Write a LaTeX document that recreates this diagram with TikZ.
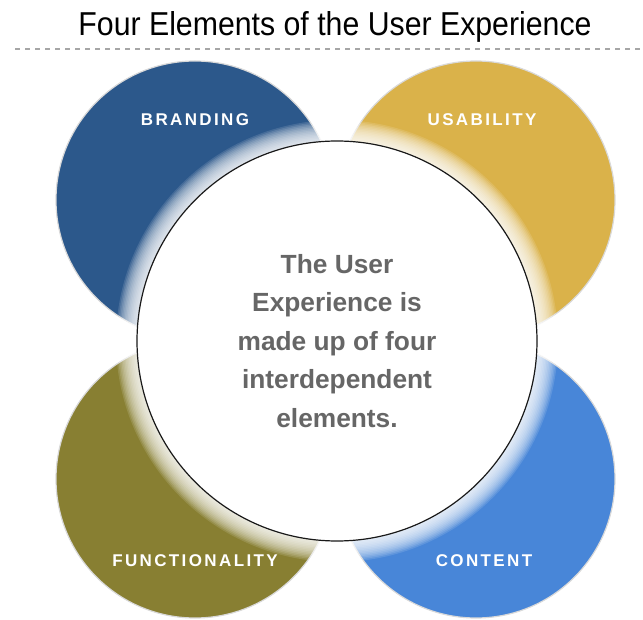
\documentclass[tikz,border=0pt]{standalone}
\usepackage{fontspec}
\setmainfont{Liberation Sans}
\usepackage{graphicx}
\definecolor{brandblue}{RGB}{44,88,139}
\definecolor{usayellow}{RGB}{218,178,74}
\definecolor{funcolive}{RGB}{136,127,50}
\definecolor{contblue}{RGB}{72,134,216}
\definecolor{hubtext}{RGB}{102,102,102}
\begin{document}
\begin{tikzpicture}[x=1pt,y=-1pt,
  petal/.style={circle, minimum size=278pt, inner sep=0pt, draw=gray!30, line width=1.2pt},
  petallabel/.style={text=white, inner sep=0pt, font=\fontsize{17}{20}\selectfont\bfseries\addfontfeatures{LetterSpace=14}},
  hub/.style={circle, minimum size=400pt, inner sep=0pt, fill=white, draw=black!90, line width=1.2pt,
    text=hubtext, align=center, font=\fontsize{26.3}{38.5}\selectfont\bfseries},
  glow/.style={white, opacity=0.125},
  rule/.style={gray!70, line width=1.5pt, dash pattern=on 5pt off 5pt}]
\useasboundingbox (0,0) rectangle (643,620);
\node[anchor=base, inner sep=0pt] (title) at (335,36) {\resizebox{513pt}{24pt}{Four Elements of the User Experience}};
\coordinate (dl) at (15,49);
\coordinate (dr) at (643,49);
\draw[rule] (dl) -- (dr);
\node[petal, fill=brandblue] (brand) at (195,200) {};
\node[petal, fill=usayellow] (usab) at (476,200) {};
\node[petal, fill=funcolive] (func) at (195,479) {};
\node[petal, fill=contblue] (cont) at (476,479) {};
\coordinate (hc) at (337,341);
\foreach \k in {1,...,14} \fill[glow] (hc) circle[radius=200+1.5*\k];
\node[hub] (hub) at (hc) {The User\\Experience is\\made up of four\\interdependent\\elements.};
\node[petallabel] (lbrand) at (195,120) {BRANDING};
\node[petallabel] (lusab) at (482,120) {USABILITY};
\node[petallabel] (lfunc) at (195,561) {FUNCTIONALITY};
\node[petallabel] (lcont) at (484,561) {CONTENT};
\end{tikzpicture}
\end{document}
